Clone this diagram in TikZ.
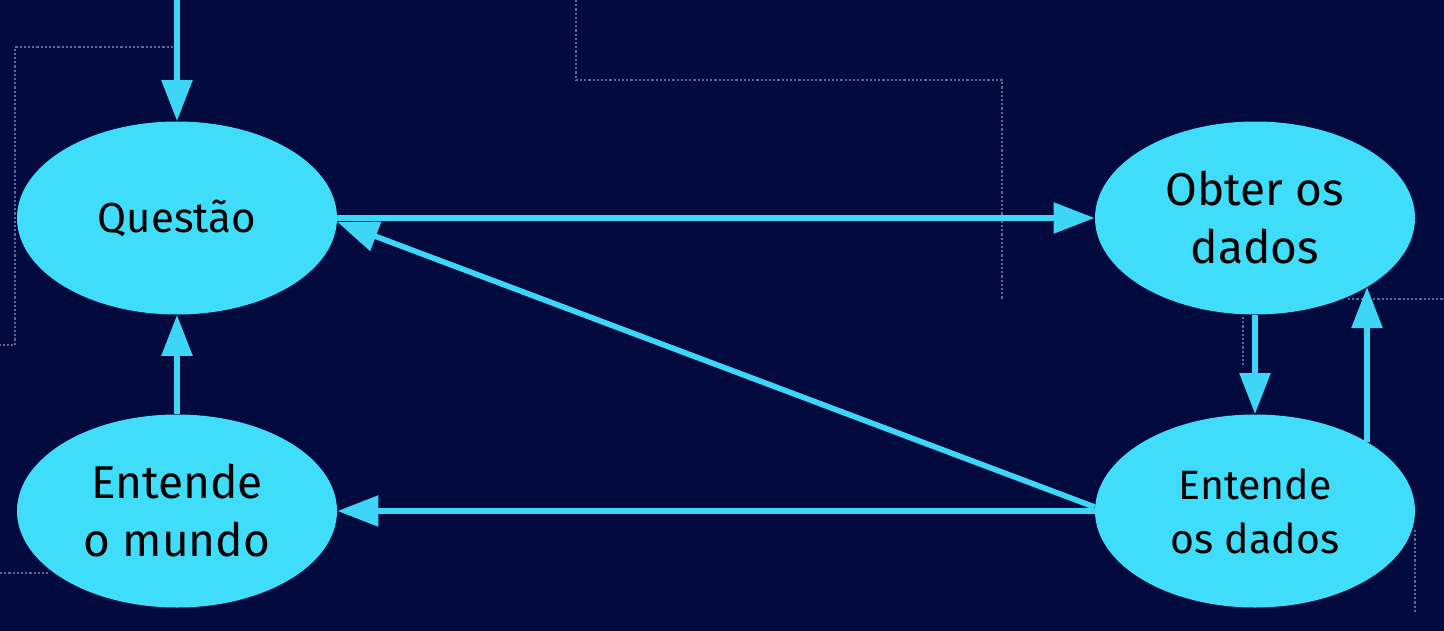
\documentclass[tikz,border=0pt]{standalone}
\usepackage{fontspec}
\setmainfont{Fira Sans}
\usetikzlibrary{shapes.geometric,arrows.meta,calc}
\definecolor{bgnavy}{RGB}{2,10,62}
\definecolor{cyanfill}{RGB}{64,221,250}
\definecolor{cyanline}{RGB}{62,214,246}
\definecolor{dotgray}{RGB}{92,104,150}
\tikzset{
  blob/.style={ellipse, fill=cyanfill, draw=none, inner sep=0pt,
    minimum width=160pt, minimum height=96.5pt, align=center, text=black},
  arr/.style={draw=cyanline, line width=2.8pt,
    -{Triangle[length=20.5pt,width=15pt]}, cyanline},
  dotline/.style={draw=dotgray, line width=1.2pt, dash pattern=on 1.1pt off 1pt}
}
\begin{document}
\begin{tikzpicture}[x=0.5pt,y=-0.5pt]
\useasboundingbox[fill=bgnavy] (0,0) rectangle (1444,631);
% dotted background lines
\draw[dotline] (173,47) -- (15,47) -- (15,345) -- (0,345);
\draw[dotline] (0,573) -- (50,573);
\draw[dotline] (576,0) -- (576,80) -- (1002,80) -- (1002,300);
\draw[dotline] (1348,299) -- (1444,299);
\draw[dotline] (1243,317) -- (1243,367);
\draw[dotline] (1415,530) -- (1415,612);
% nodes
\node[blob, font=\fontsize{21}{26}\selectfont] (q) at (177,218) {Questão};
\node[blob, font=\fontsize{23}{29}\selectfont] (em) at (177,511) {Entende\\o mundo};
\node[blob, font=\fontsize{23}{29}\selectfont] (od) at (1255,218) {Obter os\\dados};
\node[blob, font=\fontsize{20.5}{27}\selectfont] (ed) at (1255,511) {Entende\\os dados};
\coordinate (topin) at (177,0);
% connectors
\draw[arr] (topin) -- (q.north);
\draw[arr] (q.east) -- (od.west);
\draw[arr] ([yshift=2pt]ed.west) -- ([yshift=-2pt]q.east);
\draw[arr] (ed.west) -- (em.east);
\draw[arr] (em.north) -- (q.south);
\draw[arr] (od.south) -- (ed.north);
\draw[arr] ($(ed.center)+(112,-69)$) -- ($(od.center)+(112,69)$);
\end{tikzpicture}
\end{document}
